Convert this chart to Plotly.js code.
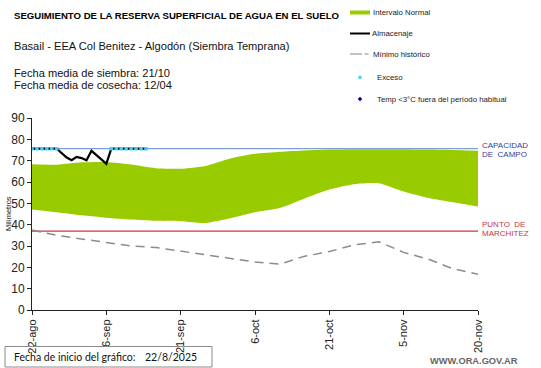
<!DOCTYPE html>
<html>
<head>
<meta charset="utf-8">
<script src="https://cdn.plot.ly/plotly-3.0.1.min.js"></script>
<style>html,body{margin:0;padding:0;background:#fff;}#chart{width:541px;height:368px;}</style>
</head>
<body>
<div id="chart"></div>
<script>
// ---- DATA ----
const bandDates = ['2025-08-22','2025-08-27','2025-09-01','2025-09-06','2025-09-11','2025-09-16','2025-09-21','2025-09-26','2025-10-01','2025-10-06','2025-10-11','2025-10-16','2025-10-21','2025-10-26','2025-10-31','2025-11-05','2025-11-10','2025-11-15','2025-11-20'];
const normalUpper = [68.3,68.1,69.2,69.4,68.2,66.5,66.2,67.5,71.0,73.2,74.2,74.8,75.2,75.4,75.4,75.4,75.2,75.0,74.6];
const normalLower = [47.1,45.8,44.4,43.3,42.4,41.8,41.6,40.8,43.0,45.8,47.8,52.3,56.5,59.0,59.4,55.5,52.5,50.5,48.5];
const minHist     = [37.5,35.0,33.3,31.6,30.0,29.3,27.6,26.0,24.5,22.5,21.5,25.2,27.4,30.5,32.0,27.0,23.8,19.3,16.8];

const almDates = ['2025-08-22','2025-08-23','2025-08-24','2025-08-25','2025-08-26','2025-08-27','2025-08-28','2025-08-29','2025-08-30','2025-08-31','2025-09-01','2025-09-02','2025-09-03','2025-09-04','2025-09-05','2025-09-06','2025-09-07','2025-09-08','2025-09-09','2025-09-10','2025-09-11','2025-09-12','2025-09-13','2025-09-14'];
const almacenaje = [75.6,75.6,75.6,75.6,75.6,75.6,73.5,71.5,70.2,71.8,71.2,70.2,74.6,72.8,70.6,68.5,75.6,75.6,75.6,75.6,75.6,75.6,75.6,75.6];

const excesoDates = ['2025-08-22','2025-08-23','2025-08-24','2025-08-25','2025-08-26','2025-08-27','2025-09-07','2025-09-08','2025-09-09','2025-09-10','2025-09-11','2025-09-12','2025-09-13','2025-09-14'];
const excesoVals = [75.6,75.6,75.6,75.6,75.6,75.6,75.6,75.6,75.6,75.6,75.6,75.6,75.6,75.6];

const CAPACIDAD = 75.6;
const MARCHITEZ = 37.0;

const tickDates = ['2025-08-22','2025-09-06','2025-09-21','2025-10-06','2025-10-21','2025-11-05','2025-11-20'];
const tickLabels = ['22-ago','6-sep','21-sep','6-oct','21-oct','5-nov','20-nov'];
const yTicks = [0,10,20,30,40,50,60,70,80,90];

// ---- LAYOUT HELPERS (pixel -> paper) ----
const L = 32, R = 63, T = 118, B = 58, W = 541, H = 368;
const PW = W - L - R, PH = H - T - B;
const px = x => (x - L) / PW;
const py = y => (H - B - y) / PH;

const FONT = 'Liberation Sans, Arial, sans-serif';
const GREEN = '#99cc00';

const traces = [
  {x: bandDates, y: normalLower, type: 'scatter', mode: 'lines', line: {width: 0, shape: 'spline', smoothing: 0.6}, hoverinfo: 'skip', showlegend: false},
  {x: bandDates, y: normalUpper, type: 'scatter', mode: 'lines', fill: 'tonexty', fillcolor: GREEN, line: {width: 0, shape: 'spline', smoothing: 0.6}, name: 'Intervalo Normal', showlegend: false},
  {x: bandDates, y: minHist, type: 'scatter', mode: 'lines', line: {color: '#8c8c8c', width: 1.5, dash: '9px,6px'}, name: 'Mínimo histórico', showlegend: false},
  {x: almDates, y: almacenaje, type: 'scatter', mode: 'lines', line: {color: '#000000', width: 2.2}, name: 'Almacenaje', showlegend: false},
  {x: excesoDates, y: excesoVals, type: 'scatter', mode: 'markers', marker: {symbol: 'square', size: 3.5, color: '#3fd0f0'}, name: 'Exceso', showlegend: false}
];

const ann = (text, x, y, opts) => Object.assign({
  text: text, xref: 'paper', yref: 'paper', x: px(x), y: py(y), xanchor: 'left', yanchor: 'middle',
  showarrow: false, font: {family: FONT, size: 12, color: '#000'}
}, opts || {});

const LEG = {family: FONT, size: 7.8, color: '#222'};
const annotations = [
  ann('<b>SEGUIMIENTO DE LA RESERVA SUPERFICIAL DE AGUA EN EL SUELO</b>', 12, 15.5, {font: {family: FONT, size: 9.6, color: '#000'}}),
  ann('Basail - EEA Col Benitez - Algodón (Siembra Temprana)', 12, 46, {font: {family: FONT, size: 11.1, color: '#111'}}),
  ann('Fecha media de siembra: 21/10', 12, 73.4, {font: {family: FONT, size: 11.1, color: '#111'}}),
  ann('Fecha media de cosecha: 12/04', 12, 84.8, {font: {family: FONT, size: 11.1, color: '#111'}}),
  ann('Intervalo Normal', 371, 12.5, {font: LEG}),
  ann('Almacenaje', 370, 33.5, {font: LEG}),
  ann('Mínimo histórico', 371, 54, {font: LEG}),
  ann('Exceso', 375, 77.3, {font: LEG}),
  ann('Temp &lt;3°C fuera del período habitual', 375, 99, {font: LEG}),
  ann('CAPACIDAD', 480, 145, {font: {family: FONT, size: 8, color: '#3a3aa0'}}),
  ann('DE\u00a0\u00a0CAMPO', 480, 154, {font: {family: FONT, size: 8, color: '#3a3aa0'}}),
  ann('PUNTO\u00a0\u00a0DE', 480, 224, {font: {family: FONT, size: 8, color: '#cc3344'}}),
  ann('MARCHITEZ', 480, 233, {font: {family: FONT, size: 8, color: '#cc3344'}}),
  ann('Milímetros', 8, 214, {xanchor: 'center', textangle: -90, font: {family: FONT, size: 7.5, color: '#111'}}),
  ann('Fecha de inicio del gráfico:', 12, 357, {font: {family: 'Lato, sans-serif', size: 10.5, color: '#111'}}),
  ann('22/8/2025', 143, 357, {font: {family: 'Lato, sans-serif', size: 10.5, color: '#111'}}),
  ann('<b>WWW.ORA.GOV.AR</b>', 428, 360.5, {font: {family: FONT, size: 9.3, color: '#666'}})
];

const pshape = (o) => Object.assign({xref: 'paper', yref: 'paper'}, o);
const shapes = [
  {type: 'line', xref: 'x', yref: 'y', x0: tickDates[0], x1: tickDates[tickDates.length-1], y0: CAPACIDAD, y1: CAPACIDAD, line: {color: '#7f9fd4', width: 1.2}, layer: 'below'},
  {type: 'line', xref: 'x', yref: 'y', x0: tickDates[0], x1: tickDates[tickDates.length-1], y0: MARCHITEZ, y1: MARCHITEZ, line: {color: '#cc3344', width: 1.2}, layer: 'below'},
  // legend symbols
  pshape({type: 'rect', x0: px(350), x1: px(370), y0: py(14.5), y1: py(10.5), fillcolor: GREEN, line: {width: 0}}),
  pshape({type: 'line', x0: px(350), x1: px(370), y0: py(33.5), y1: py(33.5), line: {color: '#000', width: 2}}),
  pshape({type: 'line', x0: px(350), x1: px(362), y0: py(54), y1: py(54), line: {color: '#999', width: 1.2}}),
  pshape({type: 'line', x0: px(364.5), x1: px(368.5), y0: py(54), y1: py(54), line: {color: '#999', width: 1.2}}),
  pshape({type: 'rect', x0: px(358.5), x1: px(361.5), y0: py(78.8), y1: py(75.8), fillcolor: '#3fd0f0', line: {width: 0}}),
  pshape({type: 'path', path: `M ${px(360)} ${py(96.8)} L ${px(362.2)} ${py(99)} L ${px(360)} ${py(101.2)} L ${px(357.8)} ${py(99)} Z`, fillcolor: '#000099', line: {width: 0}}),
  // footer box
  pshape({type: 'rect', x0: px(5), x1: px(212), y0: py(367), y1: py(346.5), line: {color: '#8a8a8a', width: 1}})
];

const layout = {
  width: W, height: H,
  margin: {l: L, r: R, t: T, b: B, pad: 0},
  paper_bgcolor: '#fff', plot_bgcolor: '#fff',
  showlegend: false,
  xaxis: {
    type: 'date', range: [tickDates[0], tickDates[tickDates.length-1]],
    tickmode: 'array', tickvals: tickDates, ticktext: tickLabels, tickangle: -90,
    ticks: 'outside', ticklen: 4, tickcolor: '#222', showline: true, linecolor: '#222', linewidth: 1,
    showgrid: false, zeroline: false, fixedrange: true,
    tickfont: {family: FONT, size: 11, color: '#222'}
  },
  yaxis: {
    range: [0, 90], tickmode: 'array', tickvals: yTicks,
    ticks: 'outside', ticklen: 4, tickcolor: '#222', showline: true, linecolor: '#222', linewidth: 1,
    showgrid: false, zeroline: false, fixedrange: true,
    tickfont: {family: FONT, size: 12, color: '#222'}
  },
  annotations: annotations,
  shapes: shapes
};

Plotly.newPlot('chart', traces, layout, {displayModeBar: false, staticPlot: true});
</script>
</body>
</html>
